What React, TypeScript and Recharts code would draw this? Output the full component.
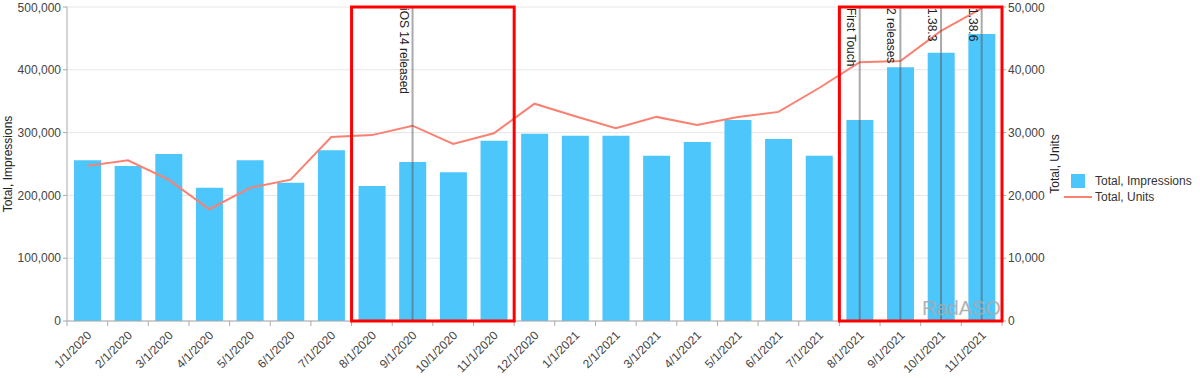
import React from 'react';
import {
  ComposedChart, Bar, Line, XAxis, YAxis, CartesianGrid,
  Legend, ReferenceLine, ReferenceArea,
} from 'recharts';

const months = [
  '1/1/2020', '2/1/2020', '3/1/2020', '4/1/2020', '5/1/2020', '6/1/2020',
  '7/1/2020', '8/1/2020', '9/1/2020', '10/1/2020', '11/1/2020', '12/1/2020',
  '1/1/2021', '2/1/2021', '3/1/2021', '4/1/2021', '5/1/2021', '6/1/2021',
  '7/1/2021', '8/1/2021', '9/1/2021', '10/1/2021', '11/1/2021',
];

const impressions = [
  256000, 247000, 266000, 212000, 256000, 220000, 272000, 215000, 253000, 237000,
  287000, 298000, 295000, 295000, 263000, 285000, 320000, 290000, 263000, 320000,
  404000, 427000, 457000,
];

const units = [
  24700, 25600, 22500, 17800, 21200, 22500, 29300, 29600, 31100, 28200,
  29900, 34600, 32600, 30700, 32500, 31200, 32500, 33300, 37100, 41200,
  41400, 46200, 49800,
];

const leftTicks = [0, 100000, 200000, 300000, 400000, 500000];
const rightTicks = [0, 10000, 20000, 30000, 40000, 50000];

const noteMonths = ['9/1/2020', '8/1/2021', '9/1/2021', '10/1/2021', '11/1/2021'];
const noteTexts = ['iOS 14 released', 'First Touch', '2 releases', '1.38.3', '1.38.6'];

const boxStarts = ['8/1/2020', '8/1/2021'];
const boxEnds = ['11/1/2020', '11/1/2021'];

const BAR_BLUE = '#4dc6fc';
const LINE_RED = '#fa8072';
const TEXT = '#444';

const data = months.map((m, i) => ({ month: m, impressions: impressions[i], units: units[i] }));

const fmt = (v: number) => v.toLocaleString('en-US');

const XTick = (props: any) => {
  const { x, y, payload, index, width } = props;
  const band = (width || 935) / months.length;
  const ax = y - 7;
  const tx = x + 5;
  const ty = y + 8;
  return (
    <g>
      <line x1={x - band / 2} x2={x - band / 2} y1={ax} y2={ax + 5} stroke="#aaa" />
      {index === months.length - 1 && (
        <line x1={x + band / 2} x2={x + band / 2} y1={ax} y2={ax + 5} stroke="#aaa" />
      )}
      <text x={tx} y={ty} transform={`rotate(-45, ${tx}, ${ty})`} textAnchor="end" fontSize={12} fill={TEXT}>
        {payload.value}
      </text>
    </g>
  );
};

const noteLabel = (text: string) => (props: any) => {
  const vb = props.viewBox || {};
  const px = vb.x - 13;
  const py = (vb.y || 7) + 1;
  return (
    <text x={px} y={py} transform={`rotate(90, ${px}, ${py})`} fontSize={12} fill="#222">
      {text}
    </text>
  );
};

const BoxShape = (props: any) => {
  const { x, y, width, height } = props;
  return <rect x={x} y={y} width={width} height={height} fill="none" stroke="#ff0000" strokeWidth={3} />;
};

const LegendBox = () => (
  <div style={{ fontSize: 12, color: '#333', lineHeight: '16px', whiteSpace: 'nowrap' }}>
    <div style={{ display: 'flex', alignItems: 'center' }}>
      <span style={{ display: 'inline-block', width: 28, textAlign: 'center', lineHeight: 0 }}>
        <span style={{ display: 'inline-block', width: 14, height: 14, background: BAR_BLUE }} />
      </span>
      <span style={{ marginLeft: 3 }}>Total, Impressions</span>
    </div>
    <div style={{ display: 'flex', alignItems: 'center' }}>
      <span style={{ display: 'inline-block', width: 28, height: 2, background: LINE_RED }} />
      <span style={{ marginLeft: 3 }}>Total, Units</span>
    </div>
  </div>
);

export default function App() {
  return (
    <div style={{ position: 'absolute', left: 0, top: 0, width: 1200, height: 378, fontFamily: 'Arial, "Liberation Sans", sans-serif' }}>
      <ComposedChart width={1200} height={378} data={data} margin={{ top: 7, right: 5, bottom: 0, left: 0 }}>
        <CartesianGrid yAxisId="left" vertical={false} stroke="#e6e6e6" />
        <XAxis
          dataKey="month"
          height={57}
          stroke="#aaa"
          tickLine={false}
          tickSize={5}
          tickMargin={2}
          interval={0}
          tick={<XTick />}
        />
        <YAxis
          yAxisId="left"
          width={67}
          domain={[0, 500000]}
          ticks={leftTicks}
          tickFormatter={fmt}
          stroke="#aaa"
          tickSize={4}
          tickMargin={2}
          tick={{ fill: TEXT, fontSize: 12 }}
          label={{ value: 'Total, Impressions', angle: -90, position: 'insideLeft', offset: 8, style: { textAnchor: 'middle', fill: '#222', fontSize: 12 } }}
        />
        <YAxis
          yAxisId="right"
          orientation="right"
          width={62}
          domain={[0, 50000]}
          ticks={rightTicks}
          tickFormatter={fmt}
          stroke="#aaa"
          tickSize={4}
          tickMargin={2}
          tick={{ fill: TEXT, fontSize: 12 }}
          label={{ value: 'Total, Units', angle: -90, position: 'insideRight', offset: 9, style: { textAnchor: 'middle', fill: '#222', fontSize: 12 } }}
        />
        <Legend layout="vertical" align="right" verticalAlign="middle" width={131} content={<LegendBox />} />
        <Bar yAxisId="left" dataKey="impressions" name="Total, Impressions" fill={BAR_BLUE} barSize={27} isAnimationActive={false} />
        <Line yAxisId="right" dataKey="units" name="Total, Units" type="linear" stroke={LINE_RED} strokeWidth={2} dot={false} isAnimationActive={false} />
        {noteMonths.map((m, i) => (
          <ReferenceLine key={m} yAxisId="left" x={m} stroke="#555" strokeOpacity={0.5} strokeWidth={2} label={noteLabel(noteTexts[i])} />
        ))}
        {boxStarts.map((s, i) => (
          <ReferenceArea
            key={s}
            yAxisId="left"
            x1={s}
            x2={boxEnds[i]}
            y1={0}
            y2={500000}
            ifOverflow="visible"
            zIndex={2000}
            shape={<BoxShape />}
          />
        ))}
      </ComposedChart>
      <div style={{ position: 'absolute', left: 922, top: 297, fontSize: 20, color: '#aaa', opacity: 0.9 }}>RadASO</div>
    </div>
  );
}
